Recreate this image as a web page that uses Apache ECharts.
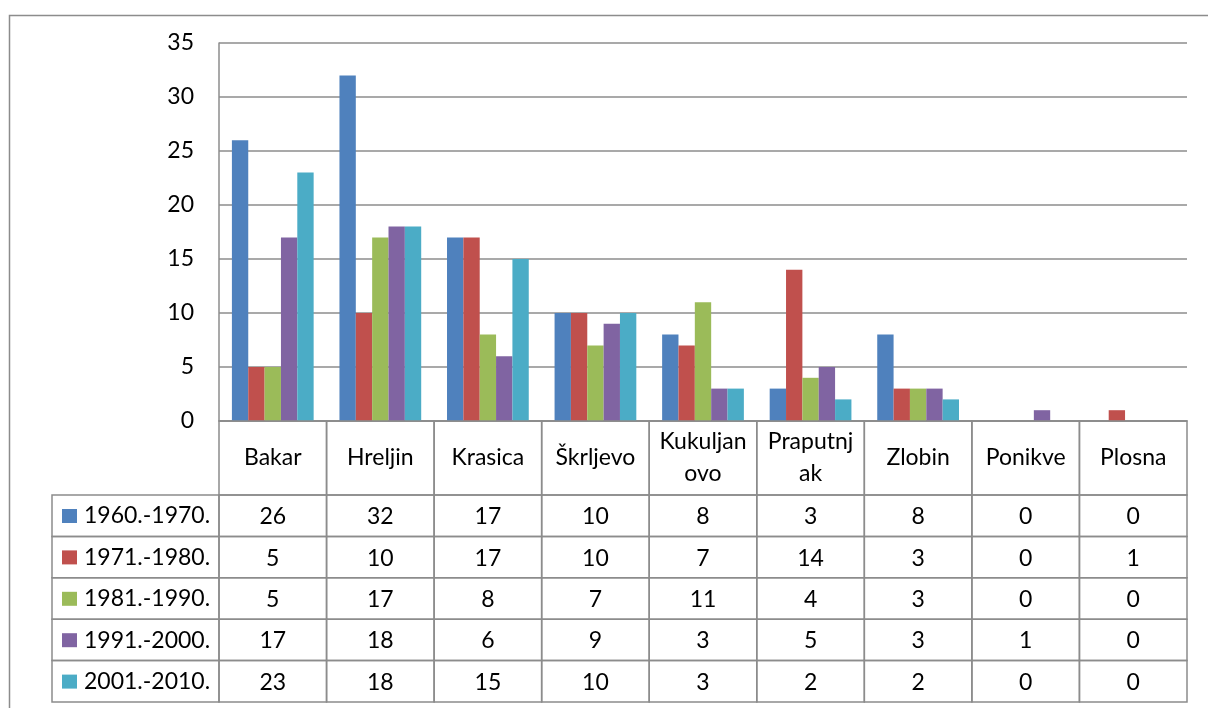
<!DOCTYPE html>
<html>
<head>
<meta charset="utf-8">
<title>chart</title>
<script src="https://cdn.jsdelivr.net/npm/echarts@6/dist/echarts.min.js"></script>
<style>
  html, body { margin: 0; padding: 0; background: #fff; }
  #chart { width: 1208px; height: 708px; }
</style>
</head>
<body>
<div id="chart"></div>
<script>
const categories = ['Bakar', 'Hreljin', 'Krasica', 'Škrljevo', 'Kukuljanovo', 'Praputnjak', 'Zlobin', 'Ponikve', 'Plosna']
// header text of the table, broken like in the original
const headerLabels = ['Bakar', 'Hreljin', 'Krasica', 'Škrljevo', 'Kukuljan\novo', 'Praputnj\nak', 'Zlobin', 'Ponikve', 'Plosna']
const periods = ['1960.-1970.', '1971.-1980.', '1981.-1990.', '1991.-2000.', '2001.-2010.']
const v1960 = [26, 32, 17, 10, 8, 3, 8, 0, 0]
const v1971 = [5, 10, 17, 10, 7, 14, 3, 0, 1]
const v1981 = [5, 17, 8, 7, 11, 4, 3, 0, 0]
const v1991 = [17, 18, 6, 9, 3, 5, 3, 1, 0]
const v2001 = [23, 18, 15, 10, 3, 2, 2, 0, 0]
const yTicks = [0, 5, 10, 15, 20, 25, 30, 35]

const rows = [v1960, v1971, v1981, v1991, v2001]
const colors = ['#4F81BD', '#C0504D', '#9BBB59', '#8064A2', '#4BACC6']
const lineColor = '#8c8c8c'
const font = 'Lato, "Noto Sans", sans-serif'

const headerH = 74
const rowH = 41.4
const legendLeft = 52

const chart = echarts.init(document.getElementById('chart'))

function renderTable(params, api) {
  const i = api.value(0)
  const p = api.coord([i, 0])
  const w = api.size([1, 0])[0]
  const x0 = p[0] - w / 2
  const y0 = p[1]
  const border = { fill: null, stroke: lineColor, lineWidth: 1.5 }
  const children = []
  children.push({ type: 'rect', shape: { x: x0, y: y0, width: w, height: headerH }, style: border })
  children.push({
    type: 'text',
    x: p[0], y: y0 + headerH / 2,
    style: { text: headerLabels[i], fill: '#000', font: '23px ' + font, align: 'center', verticalAlign: 'middle', lineHeight: 32 }
  })
  for (let r = 0; r < rows.length; r++) {
    const ry = y0 + headerH + r * rowH
    children.push({ type: 'rect', shape: { x: x0, y: ry, width: w, height: rowH }, style: border })
    children.push({
      type: 'text',
      x: p[0], y: ry + rowH / 2 + 1,
      style: { text: String(rows[r][i]), fill: '#000', font: '23px ' + font, align: 'center', verticalAlign: 'middle' }
    })
    // legend column on the left of the first category
    if (i === 0) {
      children.push({ type: 'rect', shape: { x: legendLeft, y: ry, width: x0 - legendLeft, height: rowH }, style: border })
    }
  }
  return { type: 'group', children: children }
}

const barSeries = periods.map(function (name, k) {
  return {
    name: name,
    type: 'bar',
    data: rows[k],
    barGap: '0%',
    barCategoryGap: '24%',
    itemStyle: { color: colors[k] }
  }
})

const option = {
  animation: false,
  color: colors,
  textStyle: { fontFamily: font },
  grid: { left: 219, right: 21, top: 43, bottom: 287 },
  legend: {
    data: periods,
    orient: 'vertical',
    left: 62,
    top: 504,
    padding: 0,
    icon: 'rect',
    itemWidth: 15,
    itemHeight: 14,
    itemGap: 17.4,
    textStyle: { fontSize: 23, color: '#000', lineHeight: 24, fontFamily: font, padding: [0, 0, 0, 2] }
  },
  xAxis: {
    type: 'category',
    data: categories,
    axisLine: { show: true, lineStyle: { color: lineColor, width: 1.5 } },
    axisTick: { show: false },
    axisLabel: { show: false },
    splitLine: { show: false }
  },
  yAxis: {
    type: 'value',
    min: yTicks[0],
    max: yTicks[yTicks.length - 1],
    interval: 5,
    axisLine: { show: true, lineStyle: { color: lineColor, width: 1.5 } },
    axisTick: { show: false },
    axisLabel: { fontSize: 23, color: '#000', margin: 25, fontFamily: font },
    splitLine: { lineStyle: { color: lineColor, width: 1.5 } }
  },
  graphic: [
    {
      type: 'rect',
      left: 7, top: 13,
      shape: { width: 1220, height: 720 },
      style: { fill: null, stroke: '#8c8c8c', lineWidth: 1.5 },
      silent: true
    }
  ],
  series: barSeries.concat([{
    type: 'custom',
    renderItem: renderTable,
    data: categories.map(function (c, i) { return [i, 0] }),
    encode: { x: 0, y: 1 },
    silent: true,
    clip: false,
    z: 5
  }])
}

chart.setOption(option)
window.onresize = function () {
  chart.resize()
}
</script>
</body>
</html>
